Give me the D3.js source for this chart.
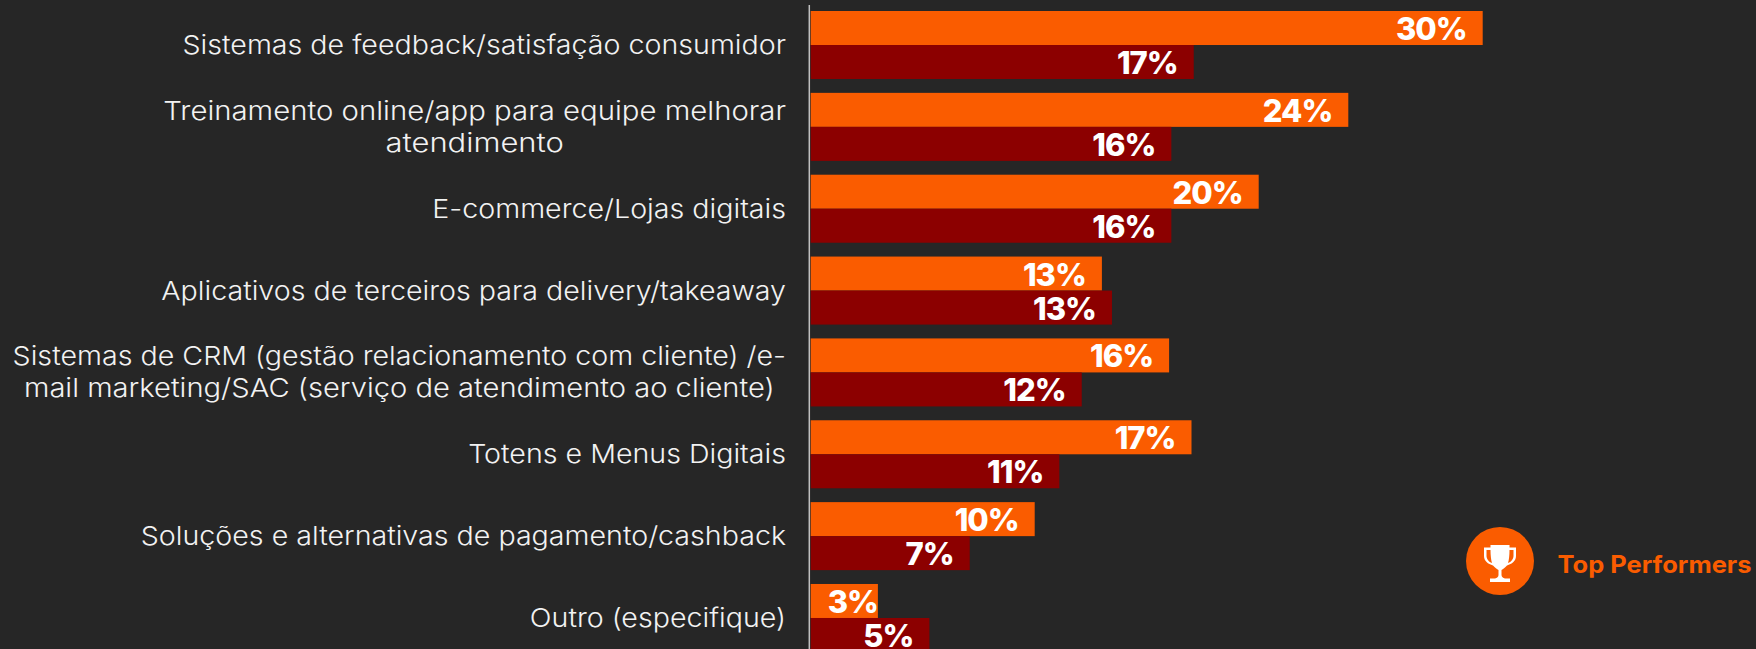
<!DOCTYPE html>
<html><head><meta charset="utf-8">
<script src="https://cdn.jsdelivr.net/npm/d3@7/dist/d3.min.js"></script>
<style>html,body{margin:0;padding:0;background:#262626;overflow:hidden}svg{display:block}</style>
</head><body><svg id="c" width="1756" height="649"></svg>
<script>
const categories = [
  ["Sistemas de feedback/satisfação consumidor"],
  ["Treinamento online/app para equipe melhorar","atendimento"],
  ["E-commerce/Lojas digitais"],
  ["Aplicativos de terceiros para delivery/takeaway"],
  ["Sistemas de CRM (gestão relacionamento com cliente) /e-","mail marketing/SAC (serviço de atendimento ao cliente)"],
  ["Totens e Menus Digitais"],
  ["Soluções e alternativas de pagamento/cashback"],
  ["Outro (especifique)"]
];
const topPerformers = [30, 24, 20, 13, 16, 17, 10, 3];
const others = [17.1, 16.1, 16.1, 13.45, 12.1, 11.1, 7.1, 5.3];
const legendLabel = "Top Performers";
const bg="#262626", orange="#FA5C00", dark="#8C0000";
const svg=d3.select("#c");
svg.append("rect").attr("width",1756).attr("height",649).attr("fill",bg);
const x=d3.scaleLinear().domain([0,30]).range([810.7,1482.7]);
const y=d3.scaleBand().domain(d3.range(categories.length)).range([11,652]).paddingInner(0.169).paddingOuter(0);
const yS=d3.scaleBand().domain([0,1]).range([0,y.bandwidth()]);
const series=[topPerformers,others], colors=[orange,dark];
const g=svg.append("g");
series.forEach((vals,s)=>{
  g.selectAll(null).data(vals).join("rect")
    .attr("x",x(0)).attr("y",(d,i)=>y(i)+yS(s)).attr("width",d=>x(d)-x(0)).attr("height",yS.bandwidth()).attr("fill",colors[s]);
  g.selectAll(null).data(vals).join("text")
    .attr("y",(d,i)=>y(i)+yS(s)+yS.bandwidth()/2+12)
    .attr("text-anchor","end").attr("fill","#fff")
    .attr("font-family","Inter").attr("font-weight",800).attr("font-size",31).attr("letter-spacing",-1)
    .text(d=>Math.round(d)+"%")
    .attr("x",function(d){ return Math.max(x(d)-16, x(0)+17+this.getComputedTextLength()); });
});
svg.append("line").attr("x1",809.3).attr("x2",809.3).attr("y1",5).attr("y2",649).attr("stroke","#bfbfbf").attr("stroke-width",1.5);
const labels=svg.append("g").attr("font-family","Inter").attr("font-weight",300).attr("font-size",26).attr("fill","#f2f2f2").attr("text-anchor","middle");
// Inter is narrower than the reference face: widen each line to fit
const defaultStretch=1.1;
const lineStretch=new Map([[categories[1][0],1.128],[categories[1][1],1.19],[categories[4][1],1.12]]);
categories.forEach((lines,i)=>{
  const cy=y(i)+y.bandwidth()/2;
  const n=lines.length;
  const ts=lines.map((l,k)=>labels.append("text").attr("y",cy+9+(k-(n-1)/2)*32).text(l));
  const widths=ts.map((t,k)=>t.node().getComputedTextLength()*(lineStretch.get(lines[k])||defaultStretch));
  const w=d3.max(widths);
  ts.forEach((t,k)=>t.attr("x",786-w/2).attr("textLength",widths[k]).attr("lengthAdjust","spacingAndGlyphs"));
});
const lg=svg.append("g").attr("transform","translate(1500,561)");
lg.append("circle").attr("r",34).attr("fill",orange);
lg.append("path").attr("fill","#fff").attr("fill-rule","evenodd").attr("d","M-9.5,-16H9.5V-13.5H16V-5C16,0 12,3 7,4.5C5,7 3,8 1.5,9V14C1.5,16 3,17 5,17.5H10V21H-10V17.5H-5C-3,17 -1.5,16 -1.5,14V9C-3,8 -5,7 -7,4.5C-12,3 -16,0 -16,-5V-13.5H-9.5ZM-9.5,-11H-13.5V-5C-13.5,-2 -11,1 -8,2C-9,-1 -9.5,-6 -9.5,-11ZM9.5,-11C9.5,-6 9,-1 8,2C11,1 13.5,-2 13.5,-5V-11Z");
const lt=svg.append("text").attr("x",1557.5).attr("y",573).attr("font-family","Inter").attr("font-weight",700).attr("font-size",24).attr("fill",orange).text(legendLabel);
lt.attr("textLength",194).attr("lengthAdjust","spacingAndGlyphs");
</script></body></html>
